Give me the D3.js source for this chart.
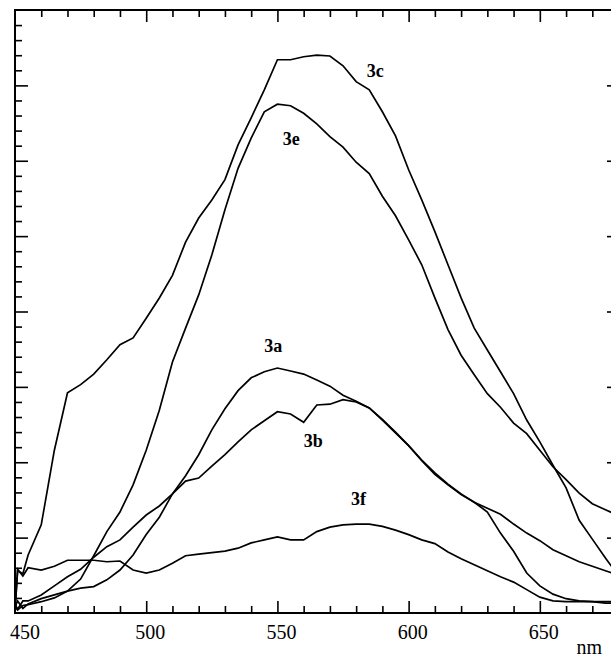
<!DOCTYPE html>
<html>
<head>
<meta charset="utf-8">
<script src="https://cdn.jsdelivr.net/npm/d3@7"></script>
<style>
  body { margin: 0; background: #fff; }
  svg { display: block; }
  text { font-family: "Liberation Serif", "Times New Roman", serif; fill: #000; }
</style>
</head>
<body>
<svg id="chart"></svg>
<script>
// wavelength grid (nm)
var wavelengths = [450, 451, 453, 455, 460, 465, 470, 475, 480, 485, 490, 495, 500, 505, 510, 515, 520, 525, 530, 535, 540, 545,
  550, 555, 560, 565, 570, 575, 580, 585, 590, 595, 600, 605, 610, 615, 620, 625, 630, 635, 640, 645,
  650, 655, 660, 665, 670, 675, 677.5];

// intensities (arbitrary units)
var s3c = [0.3, 5.6, 5.2, 7.7, 11.7, 21.6, 29.2, 30.3, 31.7, 33.6, 35.6, 36.5, 39.1, 41.8, 44.8, 49.2, 52.4, 54.8, 57.5, 62.1, 65.7, 69.4,
  73.4, 73.4, 73.8, 74.0, 73.9, 72.6, 70.5, 69.4, 66.5, 63.3, 58.8, 54.8, 50.6, 46.2, 41.8, 37.8, 34.9, 32.0, 29.1, 25.6,
  22.7, 19.6, 16.6, 12.3, 9.8, 7.3, 6.1];
var s3e = [0.8, 0.4, 1.0, 1.1, 1.5, 2.0, 2.9, 4.5, 7.6, 10.8, 13.4, 17.0, 21.6, 26.9, 33.3, 37.8, 42.2, 47.5, 53.5, 59.0, 63.0, 66.5,
  67.5, 67.3, 66.3, 64.9, 63.2, 61.8, 59.8, 58.3, 55.3, 52.7, 49.5, 46.2, 41.8, 37.6, 34.2, 31.6, 29.1, 27.3, 25.2, 23.8,
  21.6, 19.4, 17.7, 15.9, 14.5, 13.7, 13.3];
var s3a = [0.8, 1.6, 0.6, 1.2, 1.9, 2.4, 2.9, 3.3, 3.5, 4.4, 5.7, 7.7, 10.4, 12.7, 15.8, 18.2, 21.0, 24.3, 27.1, 29.5, 31.2, 32.0,
  32.5, 32.1, 31.7, 30.9, 30.1, 28.9, 28.1, 27.2, 25.7, 24.0, 22.2, 20.2, 18.4, 17.0, 15.7, 14.7, 13.4, 10.6, 8.2, 5.3,
  3.6, 2.5, 1.9, 1.6, 1.5, 1.3, 1.3];
var s3b = [1.2, 0.5, 1.6, 1.6, 2.4, 3.6, 4.8, 5.8, 7.4, 8.8, 9.7, 11.4, 13.0, 14.2, 15.8, 17.5, 17.9, 19.5, 21.0, 22.7, 24.3, 25.5,
  26.7, 26.4, 25.3, 27.6, 27.7, 28.3, 28.0, 27.2, 25.6, 23.9, 22.2, 20.3, 18.6, 17.1, 15.8, 14.7, 13.9, 13.1, 11.8, 10.6,
  9.6, 8.4, 7.6, 6.8, 6.2, 5.6, 5.3];
var s3f = [0.4, 5.8, 4.9, 6.0, 5.7, 6.2, 7.0, 7.0, 7.0, 6.8, 6.9, 5.7, 5.3, 5.7, 6.6, 7.6, 7.8, 8.0, 8.2, 8.6, 9.3, 9.7,
  10.1, 9.7, 9.7, 10.8, 11.4, 11.7, 11.8, 11.8, 11.5, 11.0, 10.4, 9.7, 9.2, 8.1, 7.2, 6.4, 5.6, 4.8, 4.1, 3.1,
  2.1, 1.6, 1.5, 1.5, 1.5, 1.5, 1.5];

var seriesNames = ["3c", "3e", "3a", "3b", "3f"];
var seriesValues = [s3c, s3e, s3a, s3b, s3f];
// where each curve label sits, in data units
var labelNm = [584, 552, 545, 560, 578];
var labelVal = [71.1, 62.1, 34.6, 22.0, 14.3];

var xTickLabels = [450, 500, 550, 600, 650];
var xMajorTicks = [500, 550, 600, 650];
var xMinorTicks = [460, 470, 480, 490, 510, 520, 530, 540, 560, 570, 580, 590, 610, 620, 630, 640, 660, 670];
var yMajorTicks = [10, 20, 30, 40, 50, 60, 70];
var yMinorTicks = [2, 4, 6, 8, 12, 14, 16, 18, 22, 24, 26, 28, 32, 34, 36, 38, 42, 44, 46, 48,
  52, 54, 56, 58, 62, 64, 66, 68, 72, 74, 76, 78];

var W = 611, H = 657;
var m = { left: 15, right: 612, top: 10, bottom: 613 };

var svg = d3.select("#chart").attr("width", W).attr("height", H);
svg.append("rect").attr("width", W).attr("height", H).attr("fill", "#fff");

var x = d3.scaleLinear().domain([450, 677.5]).range([m.left, m.right]);
var y = d3.scaleLinear().domain([0, 80]).range([m.bottom, m.top]);

// frame
svg.append("rect")
  .attr("x", m.left).attr("y", m.top)
  .attr("width", m.right - m.left).attr("height", m.bottom - m.top)
  .attr("fill", "none").attr("stroke", "#000").attr("stroke-width", 2);

function ticks(g) {
  g.selectAll(".domain").remove();
  g.selectAll("line").attr("stroke", "#000").attr("stroke-width", 1.6);
}

// bottom ticks (pointing up)
svg.append("g").attr("transform", "translate(0," + m.bottom + ")")
  .call(d3.axisBottom(x).tickValues(xMajorTicks).tickSize(-12).tickFormat("")).call(ticks);
svg.append("g").attr("transform", "translate(0," + m.bottom + ")")
  .call(d3.axisBottom(x).tickValues(xMinorTicks).tickSize(-7).tickFormat("")).call(ticks);

// top ticks (pointing down)
svg.append("g").attr("transform", "translate(0," + m.top + ")")
  .call(d3.axisTop(x).tickValues(xMajorTicks).tickSize(-12).tickFormat("")).call(ticks);
svg.append("g").attr("transform", "translate(0," + m.top + ")")
  .call(d3.axisTop(x).tickValues(xMinorTicks).tickSize(-7).tickFormat("")).call(ticks);

// left ticks
svg.append("g").attr("transform", "translate(" + m.left + ",0)")
  .call(d3.axisLeft(y).tickValues(yMajorTicks).tickSize(-13).tickFormat("")).call(ticks);
svg.append("g").attr("transform", "translate(" + m.left + ",0)")
  .call(d3.axisLeft(y).tickValues(yMinorTicks).tickSize(-7).tickFormat("")).call(ticks);

// right ticks (majors only)
svg.append("g").attr("transform", "translate(" + m.right + ",0)")
  .call(d3.axisRight(y).tickValues(yMajorTicks).tickSize(-5).tickFormat("")).call(ticks);

// tick labels
svg.append("g").selectAll("text")
  .data(xTickLabels)
  .enter().append("text")
  .attr("x", (d, i) => i === 0 ? x(d) - 5 : x(d) + 4)
  .attr("y", 639)
  .attr("text-anchor", (d, i) => i === 0 ? "start" : "middle")
  .attr("font-size", 20)
  .text(d => d);

svg.append("text")
  .attr("x", m.right - 10).attr("y", 654)
  .attr("text-anchor", "end").attr("font-size", 20)
  .text("nm");

// curves
var line = d3.line()
  .x((d, i) => x(wavelengths[i]))
  .y(d => y(d));

svg.append("g").selectAll("path")
  .data(seriesValues)
  .enter().append("path")
  .attr("d", d => line(d))
  .attr("fill", "none")
  .attr("stroke", "#000")
  .attr("stroke-width", 1.7);

svg.append("g").selectAll("text")
  .data(seriesNames)
  .enter().append("text")
  .attr("x", (d, i) => x(labelNm[i]))
  .attr("y", (d, i) => y(labelVal[i]))
  .attr("font-size", 18)
  .attr("font-weight", "bold")
  .text(d => d);
</script>
</body>
</html>
